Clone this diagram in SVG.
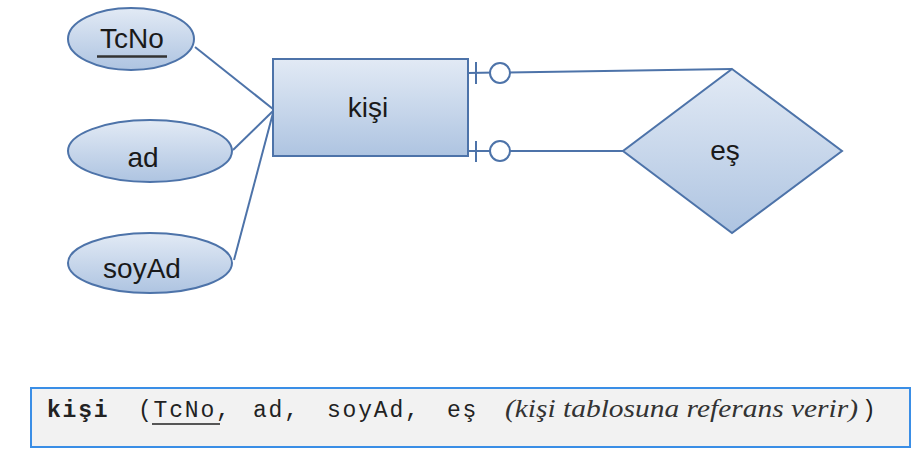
<svg xmlns="http://www.w3.org/2000/svg" width="922" height="458" viewBox="0 0 922 458">
  <defs>
    <linearGradient id="gShape" x1="0" y1="0" x2="0" y2="1">
      <stop offset="0" stop-color="#e2eaf5"/>
      <stop offset="1" stop-color="#aec4e1"/>
    </linearGradient>
    <style>
      .shape { fill: url(#gShape); stroke: #4d73a9; stroke-width: 2; }
      .conn { fill: none; stroke: #4d73a9; stroke-width: 2; }
      .lbl { font-family: "Liberation Sans", Arial, sans-serif; font-size: 28px; fill: #1a1a1a; text-anchor: middle; }
      .mono { font-family: "Liberation Mono", "Courier New", monospace; font-size: 23px; letter-spacing: 1.8px; fill: #222; }
      .ital { font-family: "Liberation Serif", "Times New Roman", serif; font-style: italic; font-size: 25px; fill: #333; }
    </style>
  </defs>
  <rect width="922" height="458" fill="#ffffff"/>

  <g id="connectors">
    <line class="conn" x1="195" y1="47" x2="273" y2="109"/>
    <line class="conn" x1="233" y1="150" x2="273" y2="111"/>
    <line class="conn" x1="234" y1="260" x2="273" y2="113"/>
    <polyline class="conn" points="468,73 732,69"/>
    <polyline class="conn" points="468,151 623,151"/>
    <line class="conn" x1="476" y1="62" x2="476" y2="84"/>
    <circle cx="500" cy="73" r="10" fill="#ffffff" stroke="#4d73a9" stroke-width="2"/>
    <line class="conn" x1="476" y1="141" x2="476" y2="162"/>
    <circle cx="500" cy="151" r="10" fill="#ffffff" stroke="#4d73a9" stroke-width="2"/>
  </g>

  <g id="attr-tcno">
    <ellipse class="shape" cx="131" cy="39" rx="63" ry="31"/>
    <text class="lbl" x="132" y="48">TcNo</text>
    <line x1="97" y1="56.5" x2="167" y2="56.5" stroke="#333" stroke-width="2.5"/>
  </g>
  <g id="attr-ad">
    <ellipse class="shape" cx="150" cy="151" rx="82" ry="31"/>
    <text class="lbl" x="143" y="167">ad</text>
  </g>
  <g id="attr-soyad">
    <ellipse class="shape" cx="150" cy="263" rx="82" ry="30"/>
    <text class="lbl" x="142" y="278">soyAd</text>
  </g>
  <g id="entity-kisi">
    <rect class="shape" x="273" y="59" width="195" height="97"/>
    <text class="lbl" x="368" y="117">kişi</text>
  </g>
  <g id="rel-es">
    <polygon class="shape" points="732,69 842,151 732,233 623,151"/>
    <text class="lbl" x="725" y="160">eş</text>
  </g>

  <g id="schema">
    <rect x="31" y="388" width="879" height="59" fill="#f2f2f2" stroke="#3a8ee6" stroke-width="2"/>
    <text class="mono" x="47" y="417" font-weight="bold">kişi</text>
    <text class="mono" x="138" y="417">(TcNo,</text>
    <line x1="152" y1="424" x2="220" y2="424" stroke="#222" stroke-width="1.5"/>
    <text class="mono" x="253" y="417">ad,</text>
    <text class="mono" x="327" y="417">soyAd,</text>
    <text class="mono" x="447" y="417">eş</text>
    <text class="ital" x="505" y="417" textLength="353" lengthAdjust="spacingAndGlyphs">(kişi tablosuna referans verir)</text>
    <text class="mono" x="862" y="417">)</text>
  </g>
</svg>
